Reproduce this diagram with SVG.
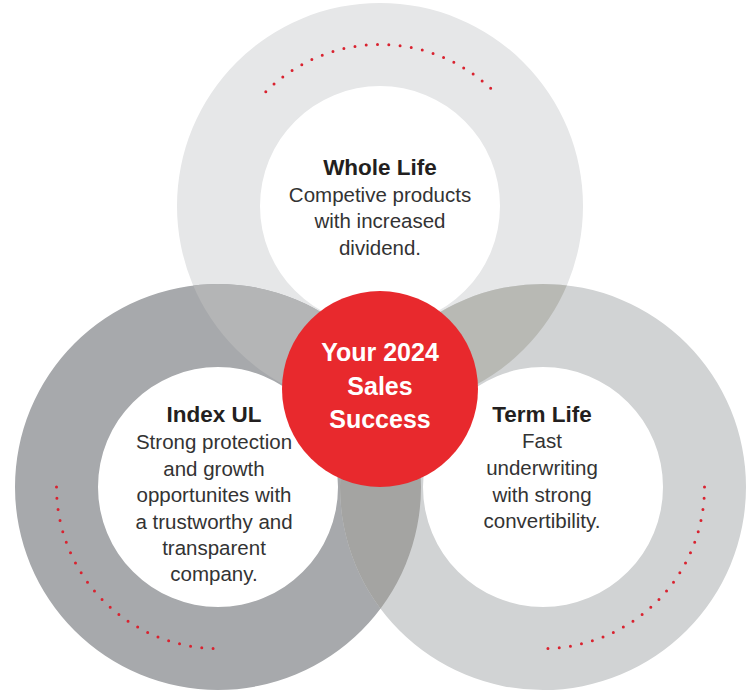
<svg xmlns="http://www.w3.org/2000/svg" xmlns:xlink="http://www.w3.org/1999/xlink" width="752" height="692" viewBox="0 0 752 692">
  <style>
    .ring { fill-rule: evenodd; }
    .dots { fill: none; stroke: #d9222f; stroke-width: 3; stroke-linecap: round; stroke-dasharray: 0 11.3; }
    .title { font-family: "Liberation Sans", Arial, sans-serif; font-weight: bold; font-size: 22.5px; fill: #231f20; text-anchor: middle; }
    .body { font-family: "Liberation Sans", Arial, sans-serif; font-size: 20.5px; fill: #333333; text-anchor: middle; }
    .center { font-family: "Liberation Sans", Arial, sans-serif; font-weight: bold; font-size: 25px; fill: #ffffff; text-anchor: middle; }
  </style>
  <defs>
    <path id="ringTop" d="M177,206 a203,203 0 1,0 406,0 a203,203 0 1,0 -406,0 Z M260,206 a120,120 0 1,0 240,0 a120,120 0 1,0 -240,0 Z"/>
    <path id="ringLeft" d="M15,487 a203,203 0 1,0 406,0 a203,203 0 1,0 -406,0 Z M98,487 a120,120 0 1,0 240,0 a120,120 0 1,0 -240,0 Z"/>
    <path id="ringRight" d="M340,487 a203,203 0 1,0 406,0 a203,203 0 1,0 -406,0 Z M423,487 a120,120 0 1,0 240,0 a120,120 0 1,0 -240,0 Z"/>
    <clipPath id="clipTop"><use xlink:href="#ringTop" clip-rule="evenodd"/></clipPath>
    <clipPath id="clipLeft"><use xlink:href="#ringLeft" clip-rule="evenodd"/></clipPath>
  </defs>
  <rect width="752" height="692" fill="#ffffff"/>

  <g id="node-whole-life">
    <use xlink:href="#ringTop" class="ring" fill="#e6e7e8"/>
    <path class="dots" d="M265.8,91.8 A161.5,161.5 0 0,1 494.2,91.8"/>
  </g>
  <g id="node-index-ul">
    <use xlink:href="#ringLeft" class="ring" fill="#a7a9ac"/>
    <path class="dots" d="M56.5,487 A161.5,161.5 0 0,0 218,648.5"/>
  </g>
  <g id="node-term-life">
    <use xlink:href="#ringRight" class="ring" fill="#d1d3d4"/>
    <path class="dots" d="M704.5,487 A161.5,161.5 0 0,1 543,648.5"/>
  </g>
  <g id="overlaps">
    <use xlink:href="#ringLeft" class="ring" fill="#b4b5b6" clip-path="url(#clipTop)"/>
    <use xlink:href="#ringRight" class="ring" fill="#b8b9b4" clip-path="url(#clipTop)"/>
    <use xlink:href="#ringRight" class="ring" fill="#a4a4a2" clip-path="url(#clipLeft)"/>
  </g>

  <g id="node-whole-life-text">
    <text class="title" x="380" y="175">Whole Life</text>
    <text class="body" x="380" y="201.5">Competive products</text>
    <text class="body" x="380" y="228">with increased</text>
    <text class="body" x="380" y="255">dividend.</text>
  </g>
  <g id="node-index-ul-text">
    <text class="title" x="214" y="421.5">Index UL</text>
    <text class="body" x="214" y="449">Strong protection</text>
    <text class="body" x="214" y="476">and growth</text>
    <text class="body" x="214" y="502">opportunites with</text>
    <text class="body" x="214" y="528.5">a trustworthy and</text>
    <text class="body" x="214" y="555">transparent</text>
    <text class="body" x="214" y="581">company.</text>
  </g>
  <g id="node-term-life-text">
    <text class="title" x="542" y="421.5">Term Life</text>
    <text class="body" x="542" y="448">Fast</text>
    <text class="body" x="542" y="475">underwriting</text>
    <text class="body" x="542" y="502">with strong</text>
    <text class="body" x="542" y="528">convertibility.</text>
  </g>
  <g id="node-center">
    <circle cx="380" cy="389" r="98" fill="#e8292d"/>
    <text class="center" x="380" y="361">Your 2024</text>
    <text class="center" x="380" y="395">Sales</text>
    <text class="center" x="380" y="428">Success</text>
  </g>
  <g id="connectors"/>
</svg>
